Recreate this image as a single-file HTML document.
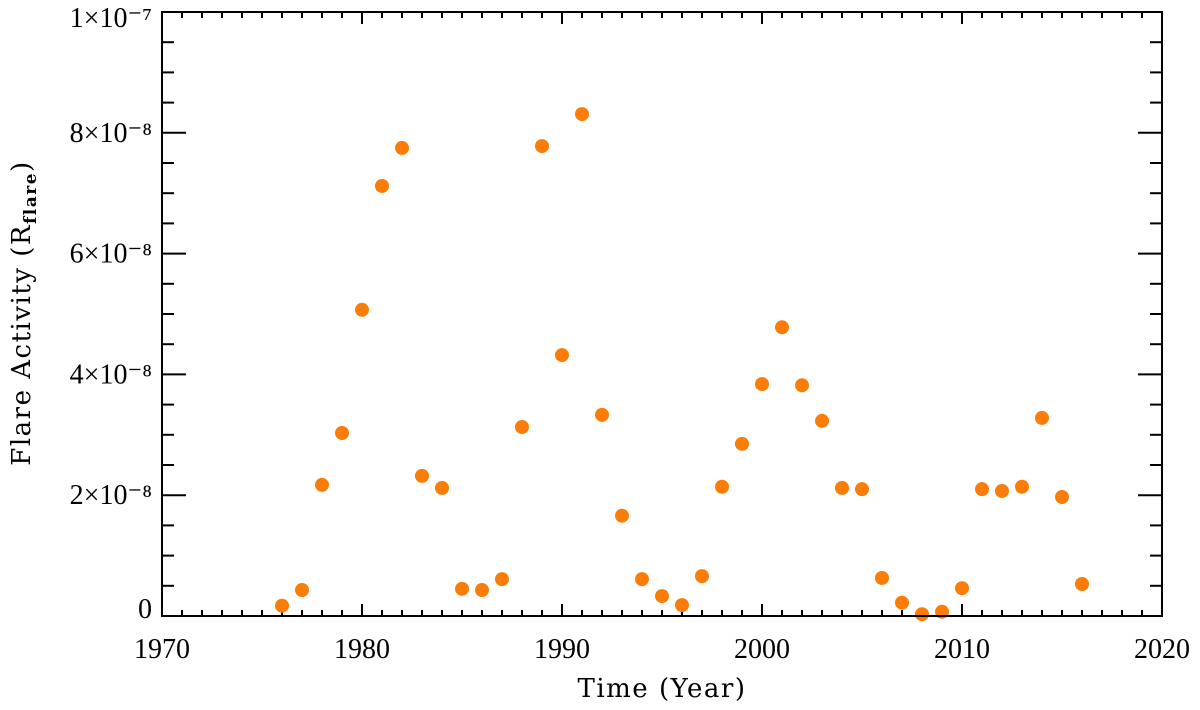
<!DOCTYPE html>
<html><head><meta charset="utf-8"><style>
body{margin:0;background:#fff}
svg text{font-family:"Liberation Serif",serif;fill:#000}
svg text.title{font-family:"DejaVu Serif","Liberation Serif",serif}
</style></head><body>
<svg id="chart" width="1200" height="705" viewBox="0 0 1200 705">
<g id="ticks"></g>
<g id="labels"></g>
<g id="points"></g>
<rect x="162" y="12" width="1000" height="604" fill="none" stroke="#000" stroke-width="2"/>
<text class="title" x="662" y="697" text-anchor="middle" font-size="26" letter-spacing="1.5">Time (Year)</text>
<text class="title" transform="translate(30,313) rotate(-90)" text-anchor="middle" font-size="26" letter-spacing="1.5">Flare Activity (R<tspan font-size="17" font-weight="bold" dy="6">flare</tspan><tspan dy="-6">)</tspan></text>
</svg>
<script>
const years=[1976,1977,1978,1979,1980,1981,1982,1983,1984,1985,1986,1987,1988,1989,1990,1991,1992,1993,1994,1995,1996,1997,1998,1999,2000,2001,2002,2003,2004,2005,2006,2007,2008,2009,2010,2011,2012,2013,2014,2015,2016];
const values=[0.17,0.43,2.17,3.03,5.07,7.12,7.75,2.32,2.12,0.45,0.43,0.61,3.13,7.78,4.32,8.31,3.33,1.66,0.61,0.33,0.18,0.66,2.14,2.85,3.84,4.78,3.82,3.23,2.12,2.10,0.63,0.22,0.03,0.07,0.46,2.10,2.07,2.14,3.28,1.97,0.53]; // units of 1e-8
const xTicks=[1970,1980,1990,2000,2010,2020];
const yTicks=[0,2,4,6,8,10];
const yTickLabels=["0","2×10⁻⁸","4×10⁻⁸","6×10⁻⁸","8×10⁻⁸","1×10⁻⁷"];
const X0=162,X1=1162,Y0=616,Y1=12;
const xs=v=>X0+(v-1970)/50*(X1-X0);
const ys=v=>Y0-(v/10)*(Y0-Y1);
const NS="http://www.w3.org/2000/svg";
function mk(tag,attrs,parent){const e=document.createElementNS(NS,tag);for(const k in attrs)e.setAttribute(k,attrs[k]);parent.appendChild(e);return e;}
const tg=document.getElementById('ticks'),lg=document.getElementById('labels'),pg=document.getElementById('points');
for(let y=1970;y<=2020;y++){const major=y%10===0,L=major?12:6,x=xs(y);
 let t=mk('line',{x1:x,x2:x,y1:Y0,y2:Y0-L,stroke:'#000','stroke-width':2},tg);
 
 
 let t2=mk('line',{x1:x,x2:x,y1:Y1,y2:Y1+L,stroke:'#000','stroke-width':2},tg);
 
 }
for(let v=0;v<=10;v+=0.5){const major=v%2===0,L=major?24:12,y=ys(v);
 let t=mk('line',{x1:X0,x2:X0+L,y1:y,y2:y,stroke:'#000','stroke-width':2},tg);
 
 
 let t2=mk('line',{x1:X1,x2:X1-L,y1:y,y2:y,stroke:'#000','stroke-width':2},tg);
 
 }
xTicks.forEach(v=>{const t=mk('text',{x:xs(v),y:Y0+42,'text-anchor':'middle','font-size':28},lg);t.textContent=v;
 
 });
yTicks.forEach((v,i)=>{const t=mk('text',{x:152,y:ys(v)+(v===0?2:9)+(v===10?6:0),'text-anchor':'end','font-size':28},lg);t.textContent=yTickLabels[i];
 
 });
years.forEach((yr,i)=>{const c=mk('circle',{cx:xs(yr),cy:ys(values[i]),r:7,fill:'#fb7d07'},pg);
 
 });
</script>
</body></html>
